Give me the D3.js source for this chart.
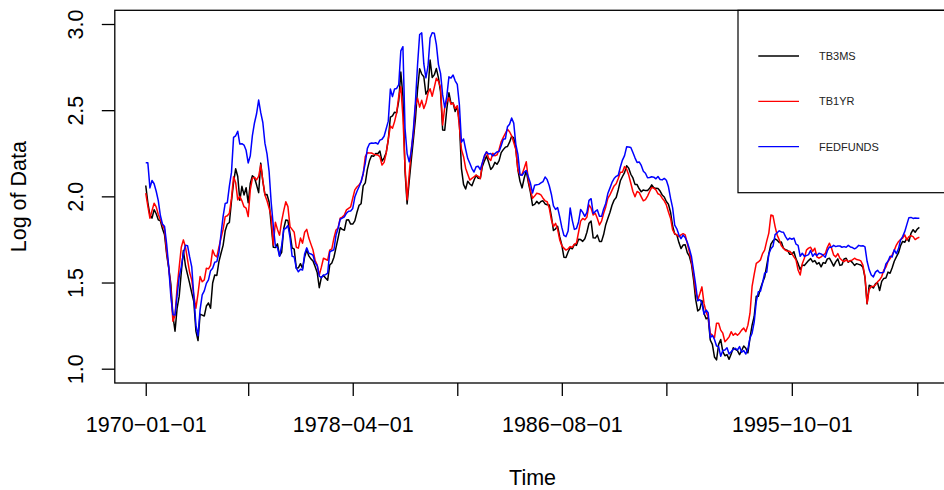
<!DOCTYPE html>
<html>
<head>
<meta charset="utf-8">
<script src="https://cdn.jsdelivr.net/npm/d3@7"></script>
<style>
  body { margin: 0; background: #fff; }
  svg { display: block; font-family: "Liberation Sans", Arial, Helvetica, sans-serif; }
</style>
</head>
<body>
<div id="chart"></div>
<script>
// monthly rates (percent), 1970-01 .. 2000-11, plotted as log
const seriesNames = ["TB3MS", "TB1YR", "FEDFUNDS"];
const seriesColors = ["black", "red", "blue"];

const tb3ms = [
  7.87, 7.13, 6.63, 6.51, 6.84, 6.68, 6.45, 6.41, 6.12, 5.91, 5.28, 4.87,
  4.44, 3.70, 3.38, 3.86, 4.14, 4.75, 5.40, 4.94, 4.69, 4.46, 4.22, 4.01,
  3.38, 3.20, 3.73, 3.71, 3.69, 3.91, 3.98, 3.86, 4.47, 4.68, 4.67, 5.06,
  5.31, 5.56, 6.05, 6.29, 6.35, 7.19, 8.01, 8.67, 8.29, 7.22, 7.83, 7.45,
  7.77, 7.12, 7.96, 8.33, 8.23, 7.90, 7.55, 8.96, 8.06, 7.46, 7.47, 7.15,
  6.26, 5.50, 5.49, 5.61, 5.23, 5.34, 6.13, 6.44, 6.42, 5.96, 5.48, 5.44,
  4.87, 4.88, 5.00, 4.86, 5.20, 5.41, 5.23, 5.14, 5.08, 4.92, 4.75, 4.35,
  4.62, 4.67, 4.60, 4.54, 4.96, 5.02, 5.19, 5.49, 5.81, 6.16, 6.10, 6.07,
  6.44, 6.45, 6.29, 6.29, 6.41, 6.73, 7.01, 7.08, 7.85, 7.99, 8.64, 9.08,
  9.35, 9.32, 9.48, 9.46, 9.61, 9.06, 9.24, 9.52, 10.26, 11.70, 11.79, 12.04,
  12.00, 12.86, 15.20, 13.20, 8.58, 7.07, 8.06, 9.13, 10.27, 11.62, 13.73, 15.49,
  15.02, 14.79, 13.36, 13.69, 16.30, 14.73, 14.95, 15.51, 14.70, 13.54, 10.86, 10.85,
  12.28, 13.48, 12.68, 12.70, 12.09, 12.47, 11.35, 8.68, 7.92, 7.71, 8.07, 7.94,
  7.86, 8.11, 8.35, 8.21, 8.19, 8.79, 9.08, 9.34, 9.00, 8.64, 8.76, 9.00,
  8.90, 9.09, 9.52, 9.69, 9.83, 9.87, 10.12, 10.47, 10.37, 9.74, 8.61, 8.06,
  7.76, 8.22, 8.57, 8.00, 7.56, 7.01, 7.05, 7.18, 7.08, 7.17, 7.20, 7.07,
  7.04, 7.03, 6.59, 6.06, 6.12, 6.21, 5.84, 5.57, 5.19, 5.18, 5.35, 5.49,
  5.45, 5.59, 5.56, 5.76, 5.75, 5.69, 5.78, 6.00, 6.32, 6.40, 5.81, 5.80,
  5.90, 5.69, 5.69, 5.92, 6.27, 6.50, 6.73, 7.02, 7.23, 7.34, 7.68, 8.09,
  8.29, 8.48, 8.83, 8.70, 8.40, 8.22, 7.92, 7.91, 7.72, 7.59, 7.67, 7.64,
  7.64, 7.74, 7.90, 7.77, 7.74, 7.73, 7.62, 7.45, 7.36, 7.17, 7.06, 6.74,
  6.22, 5.94, 5.91, 5.65, 5.46, 5.57, 5.58, 5.33, 5.22, 4.99, 4.56, 4.07,
  3.80, 3.84, 4.04, 3.75, 3.63, 3.66, 3.21, 3.13, 2.91, 2.86, 3.13, 3.22,
  3.00, 2.93, 2.95, 2.87, 2.96, 3.07, 3.04, 3.02, 2.95, 3.02, 3.10, 3.06,
  2.98, 3.25, 3.50, 3.68, 4.14, 4.14, 4.33, 4.48, 4.62, 4.95, 5.29, 5.60,
  5.71, 5.77, 5.73, 5.65, 5.67, 5.47, 5.42, 5.40, 5.28, 5.28, 5.36, 5.14,
  5.00, 4.83, 4.96, 4.95, 5.02, 5.09, 5.15, 5.05, 5.09, 4.99, 5.03, 4.91,
  5.03, 5.01, 5.14, 5.16, 5.05, 4.93, 5.05, 5.14, 4.95, 4.97, 5.14, 5.16,
  5.04, 5.09, 5.03, 4.95, 5.00, 4.98, 4.96, 4.90, 4.61, 3.96, 4.41, 4.39,
  4.34, 4.45, 4.48, 4.28, 4.51, 4.59, 4.60, 4.76, 4.73, 4.88, 5.07, 5.20,
  5.32, 5.55, 5.69, 5.66, 5.79, 5.69, 5.96, 6.09, 6.00, 6.11, 6.17
];

const tb1yr = [
  7.53, 6.98, 6.51, 6.80, 7.10, 6.95, 6.65, 6.45, 6.25, 6.10, 5.35, 4.90,
  4.30, 3.58, 3.70, 4.35, 4.90, 5.50, 5.74, 5.50, 5.11, 4.75, 4.55, 4.15,
  3.86, 4.20, 4.64, 4.50, 4.55, 4.87, 4.85, 4.95, 5.41, 5.25, 5.20, 5.50,
  5.80, 6.10, 6.57, 6.60, 6.70, 7.30, 8.28, 8.00, 7.24, 7.39, 7.20, 6.96,
  6.90, 6.57, 7.67, 8.20, 8.25, 8.13, 8.30, 8.87, 8.10, 7.45, 7.20, 6.90,
  6.57, 5.57, 6.36, 6.10, 5.90, 6.40, 6.80, 7.16, 6.96, 6.20, 6.10, 6.00,
  5.50, 5.47, 5.80, 5.63, 6.00, 6.10, 5.80, 5.60, 5.41, 5.10, 4.96, 4.68,
  4.90, 5.16, 5.13, 5.10, 5.41, 5.45, 5.80, 6.08, 6.15, 6.51, 6.55, 6.63,
  6.83, 6.89, 6.95, 7.31, 7.67, 7.80, 7.89, 8.05, 8.40, 9.30, 9.52, 9.50,
  9.50, 9.44, 9.40, 9.39, 9.30, 8.86, 9.00, 9.49, 10.30, 11.11, 10.97, 11.40,
  12.00, 13.20, 13.96, 11.73, 8.78, 7.24, 8.40, 9.70, 10.65, 12.50, 13.05, 12.40,
  12.90, 12.30, 12.70, 13.44, 13.80, 13.20, 13.90, 14.66, 14.40, 13.90, 11.18, 12.40,
  12.80, 13.10, 12.60, 12.70, 12.30, 12.50, 11.07, 9.70, 9.30, 8.70, 8.40, 8.12,
  8.20, 8.28, 8.36, 8.30, 8.20, 8.95, 9.30, 9.57, 9.22, 9.10, 9.49, 9.35,
  9.40, 9.70, 10.14, 10.40, 10.65, 10.90, 10.75, 10.50, 10.10, 9.70, 8.61, 8.36,
  8.40, 8.70, 9.03, 8.12, 7.65, 7.31, 7.40, 7.52, 7.50, 7.45, 7.31, 7.20,
  7.16, 6.90, 6.45, 6.20, 6.32, 6.10, 5.74, 5.55, 5.47, 5.41, 5.45, 5.52,
  5.50, 5.60, 5.63, 6.00, 6.40, 6.50, 6.45, 6.55, 7.03, 6.90, 6.63, 6.70,
  6.50, 6.26, 6.40, 6.70, 6.95, 7.30, 7.45, 7.65, 7.85, 7.95, 8.20, 8.50,
  8.50, 8.78, 8.65, 8.36, 7.97, 7.60, 7.37, 7.60, 7.55, 7.37, 7.20, 7.25,
  7.40, 7.60, 7.78, 7.75, 7.67, 7.50, 7.45, 7.31, 7.20, 7.03, 6.75, 6.51,
  6.08, 5.95, 5.91, 5.85, 5.91, 5.95, 5.91, 5.63, 5.35, 5.05, 4.70, 4.25,
  4.05, 4.20, 4.37, 3.97, 3.78, 3.67, 3.34, 3.30, 3.25, 3.54, 3.54, 3.40,
  3.34, 3.18, 3.22, 3.27, 3.37, 3.30, 3.34, 3.30, 3.34, 3.40, 3.44, 3.37,
  3.50, 3.75, 4.38, 4.70, 5.01, 5.05, 5.11, 5.30, 5.41, 5.70, 5.97, 6.63,
  6.60, 6.20, 5.90, 5.74, 5.55, 5.47, 5.40, 5.37, 5.37, 5.30, 5.20, 5.11,
  4.82, 4.68, 5.00, 5.16, 5.41, 5.47, 5.50, 5.37, 5.47, 5.20, 5.16, 5.20,
  5.26, 5.30, 5.50, 5.63, 5.47, 5.26, 5.20, 5.30, 5.16, 5.10, 5.06, 5.11,
  5.06, 5.08, 5.11, 5.16, 5.12, 5.11, 5.08, 4.96, 4.64, 3.97, 4.30, 4.38,
  4.38, 4.42, 4.50, 4.55, 4.64, 4.82, 4.90, 5.06, 5.15, 5.26, 5.40, 5.57,
  5.68, 5.75, 5.80, 5.91, 5.74, 5.85, 5.88, 5.85, 5.75, 5.80, 5.83
];

const fedfunds = [
  8.98, 8.98, 7.76, 8.10, 7.95, 7.61, 7.21, 6.61, 6.29, 6.20, 5.60, 4.90,
  4.14, 3.72, 3.71, 4.16, 4.63, 4.91, 5.31, 5.56, 5.55, 5.20, 4.91, 4.14,
  3.50, 3.29, 3.83, 4.17, 4.27, 4.46, 4.55, 4.80, 4.87, 5.04, 5.06, 5.33,
  5.94, 6.58, 7.09, 7.12, 7.84, 8.49, 10.40, 10.50, 10.78, 10.01, 10.03, 9.95,
  9.65, 8.97, 9.35, 10.51, 11.31, 11.93, 12.92, 12.01, 11.34, 10.06, 9.45, 8.53,
  7.13, 6.24, 5.54, 5.49, 5.22, 5.55, 6.10, 6.14, 6.24, 5.82, 5.22, 5.20,
  4.87, 4.77, 4.84, 4.82, 5.29, 5.48, 5.31, 5.29, 5.25, 5.02, 4.95, 4.65,
  4.61, 4.68, 4.69, 4.73, 5.35, 5.39, 5.42, 5.90, 6.14, 6.47, 6.51, 6.56,
  6.70, 6.78, 6.79, 6.89, 7.36, 7.60, 7.81, 8.04, 8.45, 8.96, 9.76, 10.03,
  10.07, 10.06, 10.09, 10.01, 10.24, 10.29, 10.47, 10.94, 11.43, 13.77, 13.18, 13.78,
  13.82, 14.13, 17.19, 17.61, 10.98, 9.47, 9.03, 9.61, 10.87, 12.81, 15.85, 18.90,
  19.08, 15.93, 14.70, 15.72, 18.52, 19.10, 19.04, 17.82, 15.87, 15.08, 13.31, 12.37,
  13.22, 14.78, 14.68, 14.94, 14.45, 14.15, 12.59, 10.12, 10.31, 9.71, 9.20, 8.95,
  8.68, 8.51, 8.77, 8.80, 8.63, 8.98, 9.37, 9.56, 9.45, 9.48, 9.34, 9.47,
  9.56, 9.59, 9.91, 10.29, 10.32, 11.06, 11.23, 11.64, 11.30, 9.99, 9.43, 8.38,
  8.35, 8.50, 8.58, 8.27, 7.97, 7.53, 7.88, 7.90, 7.92, 7.99, 8.05, 8.27,
  8.14, 7.86, 7.48, 6.99, 6.85, 6.92, 6.56, 6.17, 5.89, 5.85, 6.04, 6.91,
  6.43, 6.10, 6.13, 6.37, 6.85, 6.73, 6.58, 6.73, 7.22, 7.29, 6.69, 6.77,
  6.83, 6.58, 6.58, 6.87, 7.09, 7.51, 7.75, 8.01, 8.19, 8.30, 8.35, 8.76,
  9.12, 9.36, 9.85, 9.84, 9.81, 9.53, 9.24, 8.99, 9.02, 8.84, 8.55, 8.45,
  8.23, 8.24, 8.28, 8.26, 8.18, 8.29, 8.15, 8.13, 8.20, 8.11, 7.81, 7.31,
  6.91, 6.25, 6.12, 5.91, 5.78, 5.90, 5.82, 5.66, 5.45, 5.21, 4.81, 4.43,
  4.03, 4.06, 3.98, 3.73, 3.82, 3.76, 3.25, 3.30, 3.22, 3.10, 3.09, 2.92,
  3.02, 3.03, 3.07, 2.96, 3.00, 3.04, 3.06, 3.03, 3.09, 2.99, 3.02, 2.96,
  3.05, 3.25, 3.34, 3.56, 4.01, 4.25, 4.26, 4.47, 4.73, 4.76, 5.29, 5.45,
  5.53, 5.92, 5.98, 6.05, 6.01, 6.00, 5.85, 5.74, 5.80, 5.76, 5.80, 5.60,
  5.56, 5.22, 5.31, 5.22, 5.24, 5.27, 5.40, 5.22, 5.30, 5.24, 5.31, 5.29,
  5.25, 5.19, 5.39, 5.51, 5.50, 5.56, 5.52, 5.54, 5.54, 5.50, 5.52, 5.50,
  5.56, 5.51, 5.49, 5.45, 5.49, 5.56, 5.54, 5.55, 5.51, 5.07, 4.83, 4.68,
  4.63, 4.76, 4.81, 4.74, 4.74, 4.76, 4.99, 5.07, 5.22, 5.20, 5.42, 5.30,
  5.45, 5.73, 5.85, 6.02, 6.27, 6.53, 6.54, 6.50, 6.52, 6.51, 6.51
];

// x axis ticks sit on observation numbers, only some get a label (like R drops overlaps)
const xTickIndex = [0, 49, 99, 149, 199, 249, 309, 369];
const xTickLabels = ["1970-01-01", "", "1978-04-01", "", "1986-08-01", "", "1995-10-01", ""];
const yTicks = [1.0, 1.5, 2.0, 2.5, 3.0];

function drawChart() {
    const width = 944, height = 490;
    const plot = { left: 114.8, right: 950.3, top: 10.3, bottom: 383 };
    const fontSize = "21.5px";

    const svg = d3.select("#chart")
        .append("svg")
        .attr("width", width)
        .attr("height", height);

    svg.append("rect")
        .attr("width", width)
        .attr("height", height)
        .attr("fill", "white");

    const n = tb3ms.length;
    const pad = 0.04 * (n - 1);
    const xScale = d3.scaleLinear().domain([-pad, n - 1 + pad]).range([plot.left, plot.right]);
    const yScale = d3.scaleLinear().domain([0.917, 3.0795]).range([plot.bottom, plot.top]);

    const line = d3.line()
        .x((d, i) => xScale(i))
        .y(d => yScale(Math.log(d)));

    [tb3ms, tb1yr, fedfunds].forEach((s, k) => {
        svg.append("path")
            .datum(s)
            .attr("d", line)
            .attr("fill", "none")
            .attr("stroke", seriesColors[k])
            .attr("stroke-width", 1.5)
            .attr("stroke-linejoin", "round");
    });

    // box around plot region
    svg.append("rect")
        .attr("x", plot.left)
        .attr("y", plot.top)
        .attr("width", plot.right - plot.left)
        .attr("height", plot.bottom - plot.top)
        .attr("fill", "none")
        .attr("stroke", "black")
        .attr("stroke-width", 1.3);

    // x axis
    const xAxis = d3.axisBottom(xScale)
        .tickValues(xTickIndex)
        .tickSize(13)
        .tickPadding(20.5)
        .tickFormat((d, i) => xTickLabels[i].replace(/-/g, "\u2212"));

    const gx = svg.append("g")
        .attr("transform", `translate(0,${plot.bottom})`)
        .call(xAxis);
    gx.select(".domain").remove();
    gx.selectAll("line").attr("stroke", "black").attr("stroke-width", 1.3);
    gx.selectAll("text")
        .style("font-size", fontSize)
        .style("font-family", "'Liberation Sans', Arial, sans-serif")
        .attr("fill", "black");

    // y axis, labels parallel to the axis
    const yAxis = d3.axisLeft(yScale)
        .tickValues(yTicks)
        .tickSize(13)
        .tickFormat(d3.format(".1f"));

    const gy = svg.append("g")
        .attr("transform", `translate(${plot.left},0)`)
        .call(yAxis);
    gy.select(".domain").remove();
    gy.selectAll("line").attr("stroke", "black").attr("stroke-width", 1.3);
    gy.selectAll("text")
        .attr("x", 0)
        .attr("y", -31.5)
        .attr("dy", 0)
        .attr("transform", "rotate(-90)")
        .style("text-anchor", "middle")
        .style("font-size", fontSize)
        .style("font-family", "'Liberation Sans', Arial, sans-serif")
        .attr("fill", "black");

    // axis titles
    svg.append("text")
        .attr("x", (plot.left + plot.right) / 2)
        .attr("y", 485)
        .style("text-anchor", "middle")
        .style("font-size", fontSize)
        .text("Time");

    svg.append("text")
        .attr("transform", `translate(26,${(plot.top + plot.bottom) / 2}) rotate(-90)`)
        .style("text-anchor", "middle")
        .style("font-size", fontSize)
        .text("Log of Data");

    // legend
    const legend = svg.append("g");
    legend.append("rect")
        .attr("x", 738)
        .attr("y", plot.top)
        .attr("width", 260)
        .attr("height", 192.7 - plot.top)
        .attr("fill", "none")
        .attr("stroke", "black")
        .attr("stroke-width", 1.2);

    const rowY = [56, 101.3, 146.7];
    seriesNames.forEach((name, k) => {
        legend.append("line")
            .attr("x1", 758.3)
            .attr("x2", 799)
            .attr("y1", rowY[k])
            .attr("y2", rowY[k])
            .attr("stroke", seriesColors[k])
            .attr("stroke-width", 1.3);
        legend.append("text")
            .attr("x", 819)
            .attr("y", rowY[k])
            .attr("dy", "0.36em")
            .style("font-size", "11px")
            .attr("fill", "#222")
            .text(name);
    });
}

drawChart();
</script>
</body>
</html>
